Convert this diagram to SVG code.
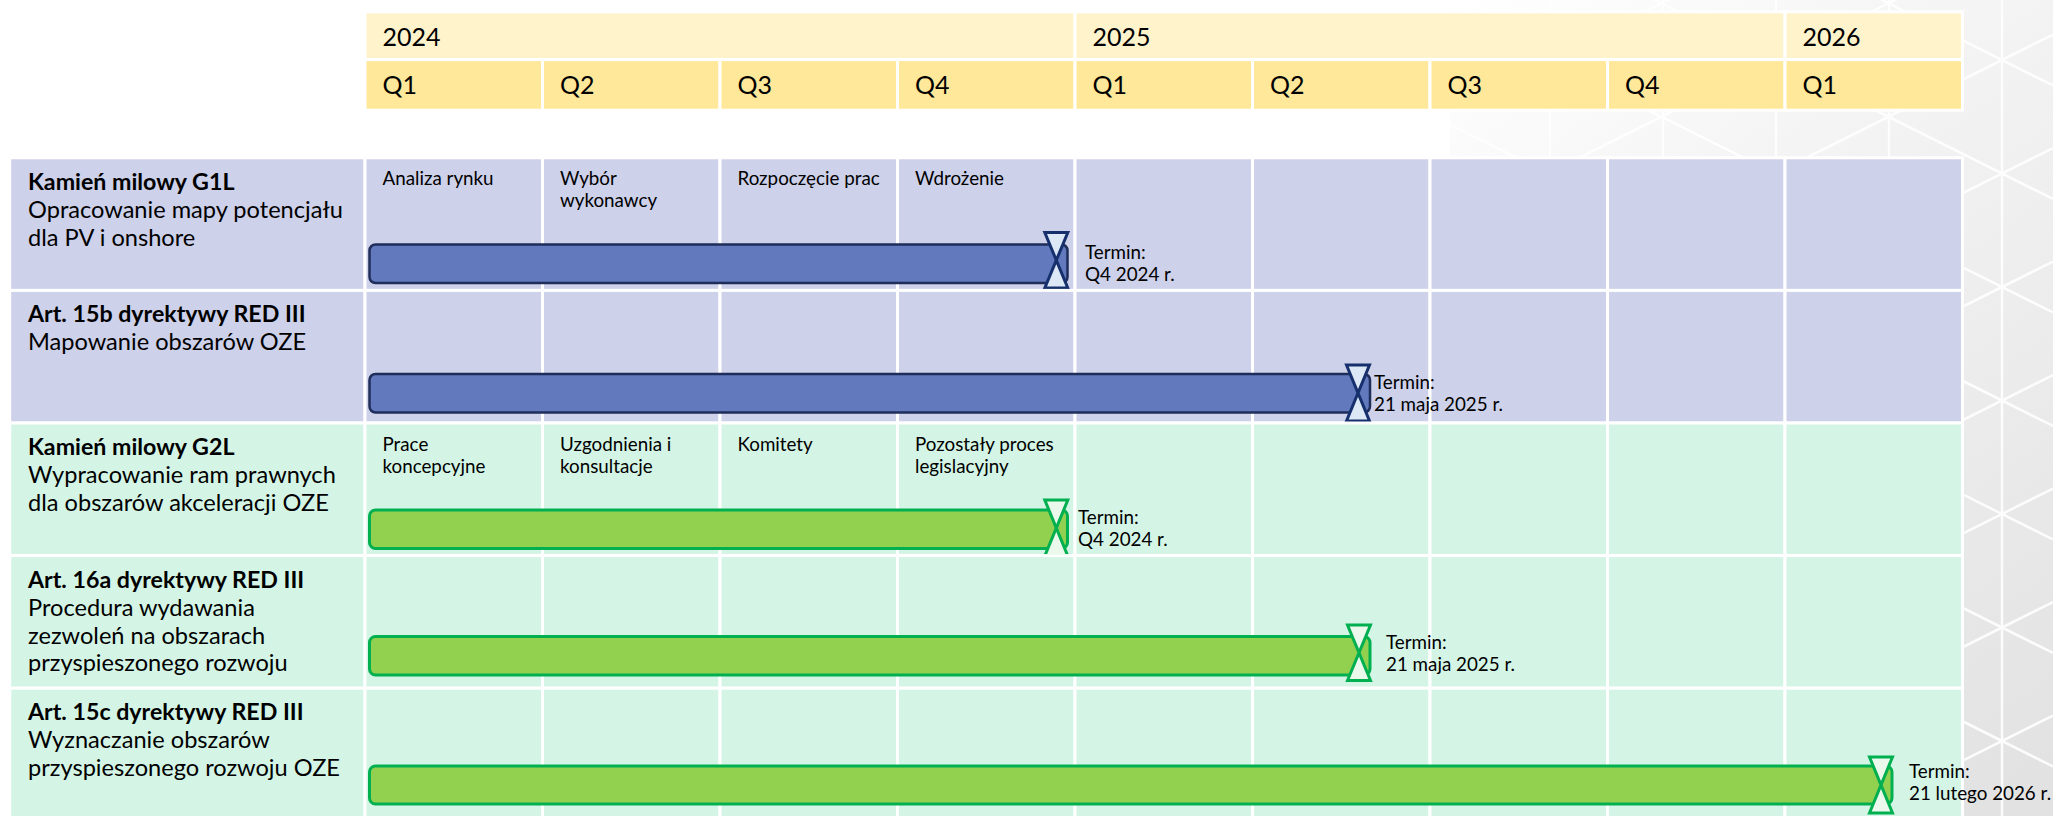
<svg xmlns="http://www.w3.org/2000/svg" width="2053" height="816" viewBox="0 0 2053 816">
<defs>
<linearGradient id="bgG" gradientUnits="userSpaceOnUse" x1="1450" y1="0" x2="2053" y2="816">
<stop offset="0" stop-color="#FFFFFF"/>
<stop offset="0.38" stop-color="#F2F2F2"/>
<stop offset="1" stop-color="#E1E1E1"/>
</linearGradient>
</defs>
<style>
text{font-family:Lato,"Noto Sans","Liberation Sans",sans-serif;fill:#000}
.hdr{font-size:25px}
.ttl{font-size:23.2px;font-weight:700}
.lbl{font-size:23.6px}
.act{font-size:18.8px}
.yr{fill:#FFF3CC;stroke:#fff;stroke-width:3}
.qt{fill:#FFE899;stroke:#fff;stroke-width:3}
.pu{fill:#CDD1EA;stroke:#fff;stroke-width:3}
.gr{fill:#D4F5E6;stroke:#fff;stroke-width:3}
.bb{fill:#6279BE;stroke:#1F2D5A;stroke-width:2.5}
.gb{fill:#92D050;stroke:#00B050;stroke-width:3}
.bm{fill:#DDE8F7;stroke:#15306C;stroke-width:3;stroke-linejoin:miter}
.gm{fill:#EBF9EC;stroke:#00B050;stroke-width:3;stroke-linejoin:miter}
.pat{stroke:#fff;stroke-width:2.5;opacity:0.9}
</style>
<rect x="0" y="0" width="2053" height="816" fill="#fff"/>
<g id="background">
<rect x="1450" y="0" width="603" height="816" fill="url(#bgG)"/>
<g class="pat">
<line x1="1550" y1="0" x2="1550" y2="816"/>
<line x1="1663" y1="0" x2="1663" y2="816"/>
<line x1="1776" y1="0" x2="1776" y2="816"/>
<line x1="1889" y1="0" x2="1889" y2="816"/>
<line x1="2002" y1="0" x2="2002" y2="816"/>
<line x1="1450" y1="-216" x2="2053" y2="85.5"/>
<line x1="1450" y1="-102.5" x2="2053" y2="199"/>
<line x1="1450" y1="11" x2="2053" y2="312.5"/>
<line x1="1450" y1="124.5" x2="2053" y2="426"/>
<line x1="1450" y1="238" x2="2053" y2="539.5"/>
<line x1="1450" y1="351.5" x2="2053" y2="653"/>
<line x1="1450" y1="465" x2="2053" y2="766.5"/>
<line x1="1450" y1="578.5" x2="2053" y2="880"/>
<line x1="1450" y1="692" x2="2053" y2="993.5"/>
<line x1="1450" y1="805.5" x2="2053" y2="1107"/>
<line x1="1450" y1="-4.5" x2="2053" y2="-306"/>
<line x1="1450" y1="109" x2="2053" y2="-192.5"/>
<line x1="1450" y1="222.5" x2="2053" y2="-79"/>
<line x1="1450" y1="336" x2="2053" y2="34.5"/>
<line x1="1450" y1="449.5" x2="2053" y2="148"/>
<line x1="1450" y1="563" x2="2053" y2="261.5"/>
<line x1="1450" y1="676.5" x2="2053" y2="375"/>
<line x1="1450" y1="790" x2="2053" y2="488.5"/>
<line x1="1450" y1="903.5" x2="2053" y2="602"/>
<line x1="1450" y1="1017" x2="2053" y2="715.5"/>
<line x1="1450" y1="1130.5" x2="2053" y2="829"/>
</g>
</g>

<g id="header">
<rect class="yr" x="365" y="11.8" width="710" height="47.8"/>
<rect class="yr" x="1075" y="11.8" width="710" height="47.8"/>
<rect class="yr" x="1785" y="11.8" width="177.5" height="47.8"/>
<text class="hdr" x="382.5" y="45.5">2024</text>
<text class="hdr" x="1092.5" y="45.5">2025</text>
<text class="hdr" x="1802.5" y="45.5">2026</text>
<rect class="qt" x="365" y="59.6" width="177.5" height="50.6"/>
<rect class="qt" x="542.5" y="59.6" width="177.5" height="50.6"/>
<rect class="qt" x="720" y="59.6" width="177.5" height="50.6"/>
<rect class="qt" x="897.5" y="59.6" width="177.5" height="50.6"/>
<rect class="qt" x="1075" y="59.6" width="177.5" height="50.6"/>
<rect class="qt" x="1252.5" y="59.6" width="177.5" height="50.6"/>
<rect class="qt" x="1430" y="59.6" width="177.5" height="50.6"/>
<rect class="qt" x="1607.5" y="59.6" width="177.5" height="50.6"/>
<rect class="qt" x="1785" y="59.6" width="177.5" height="50.6"/>
<text class="hdr" x="382.5" y="93.5">Q1</text>
<text class="hdr" x="560" y="93.5">Q2</text>
<text class="hdr" x="737.5" y="93.5">Q3</text>
<text class="hdr" x="915" y="93.5">Q4</text>
<text class="hdr" x="1092.5" y="93.5">Q1</text>
<text class="hdr" x="1270" y="93.5">Q2</text>
<text class="hdr" x="1447.5" y="93.5">Q3</text>
<text class="hdr" x="1625" y="93.5">Q4</text>
<text class="hdr" x="1802.5" y="93.5">Q1</text>
</g>

<g id="row-g1l">
<rect class="pu" x="9.7" y="157.8" width="355.3" height="132.6"/>
<rect class="pu" x="365" y="157.8" width="177.5" height="132.6"/>
<rect class="pu" x="542.5" y="157.8" width="177.5" height="132.6"/>
<rect class="pu" x="720" y="157.8" width="177.5" height="132.6"/>
<rect class="pu" x="897.5" y="157.8" width="177.5" height="132.6"/>
<rect class="pu" x="1075" y="157.8" width="177.5" height="132.6"/>
<rect class="pu" x="1252.5" y="157.8" width="177.5" height="132.6"/>
<rect class="pu" x="1430" y="157.8" width="177.5" height="132.6"/>
<rect class="pu" x="1607.5" y="157.8" width="177.5" height="132.6"/>
<rect class="pu" x="1785" y="157.8" width="177.5" height="132.6"/>
<text class="ttl" x="28" y="189.5">Kamień milowy G1L</text>
<text class="lbl" x="28" y="217.5">Opracowanie mapy potencjału</text>
<text class="lbl" x="28" y="245.5">dla PV i onshore</text>
<text class="act" x="382.5" y="185">Analiza rynku</text>
<text class="act" x="560" y="185">Wybór</text>
<text class="act" x="560" y="206.5">wykonawcy</text>
<text class="act" x="737.5" y="185">Rozpoczęcie prac</text>
<text class="act" x="915" y="185">Wdrożenie</text>
<rect class="bb" x="369.5" y="244.5" width="698" height="38.5" rx="6"/>
<polygon class="bm" points="1044.8,232.5 1067.8,232.5 1044.8,288 1067.8,288"/>
<text class="act" x="1085" y="259">Termin:</text>
<text class="act" x="1085" y="281">Q4 2024 r.</text>
</g>

<g id="row-15b">
<rect class="pu" x="9.7" y="290.4" width="355.3" height="132.6"/>
<rect class="pu" x="365" y="290.4" width="177.5" height="132.6"/>
<rect class="pu" x="542.5" y="290.4" width="177.5" height="132.6"/>
<rect class="pu" x="720" y="290.4" width="177.5" height="132.6"/>
<rect class="pu" x="897.5" y="290.4" width="177.5" height="132.6"/>
<rect class="pu" x="1075" y="290.4" width="177.5" height="132.6"/>
<rect class="pu" x="1252.5" y="290.4" width="177.5" height="132.6"/>
<rect class="pu" x="1430" y="290.4" width="177.5" height="132.6"/>
<rect class="pu" x="1607.5" y="290.4" width="177.5" height="132.6"/>
<rect class="pu" x="1785" y="290.4" width="177.5" height="132.6"/>
<text class="ttl" x="28" y="322.3">Art. 15b dyrektywy RED III</text>
<text class="lbl" x="28" y="350.3">Mapowanie obszarów OZE</text>
<rect class="bb" x="369.5" y="374" width="1000.5" height="38.5" rx="6"/>
<polygon class="bm" points="1346.5,365 1369.5,365 1346.5,421 1369.5,421"/>
<text class="act" x="1374" y="389">Termin:</text>
<text class="act" x="1374" y="411">21 maja 2025 r.</text>
</g>

<g id="row-g2l">
<rect class="gr" x="9.7" y="423" width="355.3" height="132.6"/>
<rect class="gr" x="365" y="423" width="177.5" height="132.6"/>
<rect class="gr" x="542.5" y="423" width="177.5" height="132.6"/>
<rect class="gr" x="720" y="423" width="177.5" height="132.6"/>
<rect class="gr" x="897.5" y="423" width="177.5" height="132.6"/>
<rect class="gr" x="1075" y="423" width="177.5" height="132.6"/>
<rect class="gr" x="1252.5" y="423" width="177.5" height="132.6"/>
<rect class="gr" x="1430" y="423" width="177.5" height="132.6"/>
<rect class="gr" x="1607.5" y="423" width="177.5" height="132.6"/>
<rect class="gr" x="1785" y="423" width="177.5" height="132.6"/>
<text class="ttl" x="28" y="455.3">Kamień milowy G2L</text>
<text class="lbl" x="28" y="483">Wypracowanie ram prawnych</text>
<text class="lbl" x="28" y="511">dla obszarów akceleracji OZE</text>
<text class="act" x="382.5" y="451">Prace</text>
<text class="act" x="382.5" y="472.5">koncepcyjne</text>
<text class="act" x="560" y="451">Uzgodnienia i</text>
<text class="act" x="560" y="472.5">konsultacje</text>
<text class="act" x="737.5" y="451">Komitety</text>
<text class="act" x="915" y="451">Pozostały proces</text>
<text class="act" x="915" y="472.5">legislacyjny</text>
<rect class="gb" x="369.5" y="510" width="698" height="38.5" rx="6"/>
<polygon class="gm" points="1044.8,500 1067.8,500 1044.8,556 1067.8,556"/>
<text class="act" x="1078" y="523.5">Termin:</text>
<text class="act" x="1078" y="546">Q4 2024 r.</text>
</g>

<g id="row-16a">
<rect class="gr" x="9.7" y="555.6" width="355.3" height="132.6"/>
<rect class="gr" x="365" y="555.6" width="177.5" height="132.6"/>
<rect class="gr" x="542.5" y="555.6" width="177.5" height="132.6"/>
<rect class="gr" x="720" y="555.6" width="177.5" height="132.6"/>
<rect class="gr" x="897.5" y="555.6" width="177.5" height="132.6"/>
<rect class="gr" x="1075" y="555.6" width="177.5" height="132.6"/>
<rect class="gr" x="1252.5" y="555.6" width="177.5" height="132.6"/>
<rect class="gr" x="1430" y="555.6" width="177.5" height="132.6"/>
<rect class="gr" x="1607.5" y="555.6" width="177.5" height="132.6"/>
<rect class="gr" x="1785" y="555.6" width="177.5" height="132.6"/>
<text class="ttl" x="28" y="587.7">Art. 16a dyrektywy RED III</text>
<text class="lbl" x="28" y="615.5">Procedura wydawania</text>
<text class="lbl" x="28" y="643.5">zezwoleń na obszarach</text>
<text class="lbl" x="28" y="671.3">przyspieszonego rozwoju</text>
<rect class="gb" x="369.5" y="636.5" width="1000.5" height="38.5" rx="6"/>
<polygon class="gm" points="1347.5,625 1370.5,625 1347.5,680.5 1370.5,680.5"/>
<text class="act" x="1386" y="649">Termin:</text>
<text class="act" x="1386" y="671">21 maja 2025 r.</text>
</g>

<g id="row-15c">
<rect class="gr" x="9.7" y="688.2" width="355.3" height="132.6"/>
<rect class="gr" x="365" y="688.2" width="177.5" height="132.6"/>
<rect class="gr" x="542.5" y="688.2" width="177.5" height="132.6"/>
<rect class="gr" x="720" y="688.2" width="177.5" height="132.6"/>
<rect class="gr" x="897.5" y="688.2" width="177.5" height="132.6"/>
<rect class="gr" x="1075" y="688.2" width="177.5" height="132.6"/>
<rect class="gr" x="1252.5" y="688.2" width="177.5" height="132.6"/>
<rect class="gr" x="1430" y="688.2" width="177.5" height="132.6"/>
<rect class="gr" x="1607.5" y="688.2" width="177.5" height="132.6"/>
<rect class="gr" x="1785" y="688.2" width="177.5" height="132.6"/>
<text class="ttl" x="28" y="720.2">Art. 15c dyrektywy RED III</text>
<text class="lbl" x="28" y="748.3">Wyznaczanie obszarów</text>
<text class="lbl" x="28" y="776.2">przyspieszonego rozwoju OZE</text>
<rect class="gb" x="369.5" y="766" width="1522.5" height="38" rx="6"/>
<polygon class="gm" points="1869.5,757 1892.5,757 1869.5,813 1892.5,813"/>
<text class="act" x="1909" y="778">Termin:</text>
<text class="act" x="1909" y="800">21 lutego 2026 r.</text>
</g>

<g id="connectors"></g>
</svg>
